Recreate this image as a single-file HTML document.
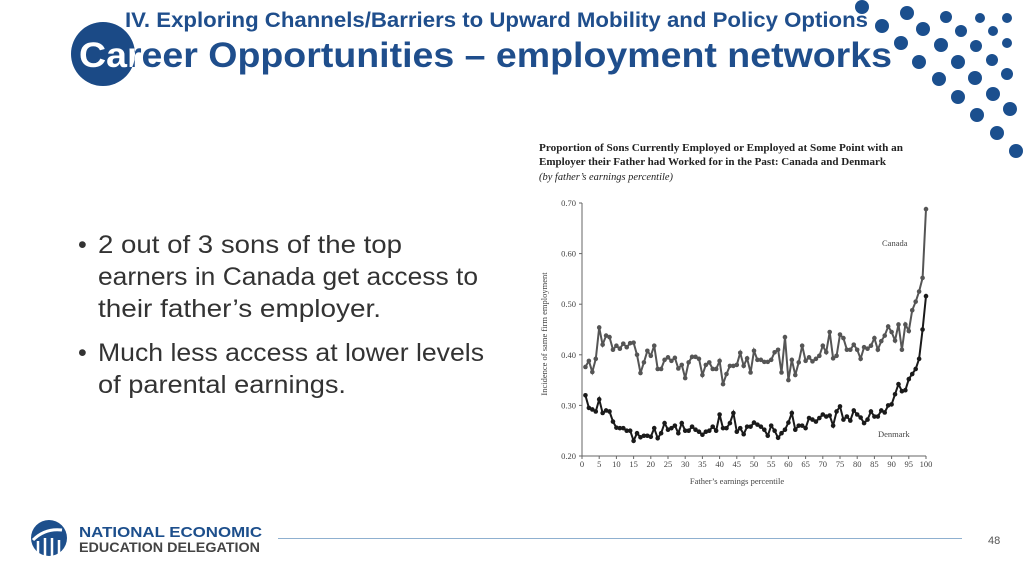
<!DOCTYPE html>
<html><head><meta charset="utf-8"><style>
html,body{margin:0;padding:0;background:#fff;width:1024px;height:576px;overflow:hidden}
svg{display:block}
</style></head><body>
<svg id="s" width="1024" height="576" viewBox="0 0 1024 576" xmlns="http://www.w3.org/2000/svg">
<defs><clipPath id="cc"><circle cx="103" cy="54" r="32"/></clipPath></defs>
<g fill="#1b4f8e" id="dots"></g>
<text x="125" y="27" font-family="Liberation Sans, sans-serif" font-weight="bold" font-size="21" fill="#1f4e8c" textLength="743" lengthAdjust="spacingAndGlyphs">IV. Exploring Channels/Barriers to Upward Mobility and Policy Options</text>
<circle cx="103" cy="54" r="32" fill="#1b4a86"/>
<text x="79" y="67" font-family="Liberation Sans, sans-serif" font-weight="bold" font-size="35" fill="#1f4e8c" textLength="813" lengthAdjust="spacingAndGlyphs">Career Opportunities – employment networks</text>
<text x="79" y="67" font-family="Liberation Sans, sans-serif" font-weight="bold" font-size="35" fill="#fff" textLength="813" lengthAdjust="spacingAndGlyphs" clip-path="url(#cc)">Career Opportunities – employment networks</text>
<g font-family="Liberation Sans, sans-serif" font-size="25" fill="#333">
<text x="78" y="253">•</text><text x="98" y="253" textLength="304" lengthAdjust="spacingAndGlyphs">2 out of 3 sons of the top</text>
<text x="98" y="285" textLength="380" lengthAdjust="spacingAndGlyphs">earners in Canada get access to</text>
<text x="98" y="317" textLength="283" lengthAdjust="spacingAndGlyphs">their father’s employer.</text>
<text x="78" y="361">•</text><text x="98" y="361" textLength="386" lengthAdjust="spacingAndGlyphs">Much less access at lower levels</text>
<text x="98" y="393" textLength="248" lengthAdjust="spacingAndGlyphs">of parental earnings.</text>
</g>
<g font-family="Liberation Serif, serif" font-size="10" fill="#222">
<text x="539" y="151" font-weight="bold" textLength="364" lengthAdjust="spacingAndGlyphs">Proportion of Sons Currently Employed or Employed at Some Point with an</text>
<text x="539" y="165" font-weight="bold" textLength="347" lengthAdjust="spacingAndGlyphs">Employer their Father had Worked for in the Past: Canada and Denmark</text>
<text x="539" y="180" font-style="italic" textLength="134" lengthAdjust="spacingAndGlyphs">(by father’s earnings percentile)</text>
</g>
<g id="chart" font-family="Liberation Serif, serif" font-size="8.5" fill="#444"></g>
<line x1="278" y1="538.5" x2="962" y2="538.5" stroke="#8fb0d0" stroke-width="1"/>
<text x="988" y="544" font-family="Liberation Sans, sans-serif" font-size="11" fill="#555">48</text>
<circle cx="49" cy="538" r="18" fill="#1d4f8c"/>
<g stroke="#fff" stroke-width="2.5"><line x1="38" y1="541" x2="38" y2="556"/><line x1="45" y1="538" x2="45" y2="556"/><line x1="52" y1="538" x2="52" y2="556"/><line x1="59" y1="540" x2="59" y2="556"/></g>
<path d="M33 540 Q45 528 62 530" stroke="#fff" stroke-width="3" fill="none"/>
<text x="79" y="537" font-family="Liberation Sans, sans-serif" font-weight="bold" font-size="15" fill="#1d4f8c" textLength="183" lengthAdjust="spacingAndGlyphs">NATIONAL ECONOMIC</text>
<text x="79" y="552" font-family="Liberation Sans, sans-serif" font-weight="bold" font-size="14" fill="#444" textLength="181" lengthAdjust="spacingAndGlyphs">EDUCATION DELEGATION</text>
</svg>
<script>
var NS="http://www.w3.org/2000/svg";
function el(t,a,p){var e=document.createElementNS(NS,t);for(var k in a)e.setAttribute(k,a[k]);p.appendChild(e);return e;}
var D=[[862,7,7],[907,13,7],[946,17,6],[980,18,5],[1007,18,5],[882,26,7],[923,29,7],[961,31,6],[993,31,5],[901,43,7],[941,45,7],[976,46,6],[1007,43,5],[919,62,7],[958,62,7],[992,60,6],[1007,74,6],[939,79,7],[975,78,7],[993,94,7],[958,97,7],[1010,109,7],[977,115,7],[997,133,7],[1016,151,7]];
var dg=document.getElementById('dots');D.forEach(function(d){el('circle',{cx:d[0],cy:d[1],r:d[2]},dg)});
var C=[.376,.388,.366,.392,.454,.42,.438,.435,.41,.418,.412,.422,.415,.423,.424,.4,.364,.385,.408,.398,.418,.372,.372,.39,.395,.388,.394,.373,.38,.354,.385,.396,.396,.392,.36,.38,.385,.372,.372,.388,.342,.362,.378,.378,.38,.404,.378,.393,.365,.408,.39,.39,.386,.386,.39,.405,.41,.365,.435,.35,.39,.36,.385,.418,.388,.395,.387,.392,.398,.418,.405,.445,.393,.398,.44,.433,.41,.41,.42,.41,.392,.415,.412,.418,.433,.41,.427,.438,.456,.445,.428,.46,.41,.46,.447,.488,.505,.525,.552,.688];
var Dn=[.32,.295,.292,.288,.312,.285,.29,.288,.268,.256,.255,.255,.25,.25,.23,.245,.237,.24,.24,.238,.255,.235,.245,.265,.252,.255,.26,.245,.265,.25,.25,.258,.252,.248,.242,.248,.25,.258,.25,.282,.255,.255,.265,.285,.248,.255,.243,.258,.258,.266,.262,.258,.252,.24,.26,.25,.236,.245,.252,.266,.285,.252,.26,.26,.255,.275,.272,.268,.275,.282,.278,.28,.26,.288,.298,.272,.278,.27,.29,.282,.276,.265,.272,.288,.278,.278,.29,.286,.3,.302,.322,.342,.328,.33,.352,.362,.372,.392,.45,.516];
var g=document.getElementById('chart');
var X=function(p){return 582+p*3.44},Y=function(v){return 456-(v-0.2)*506};
el('line',{x1:582,y1:203,x2:582,y2:456,stroke:'#666','stroke-width':1},g);
el('line',{x1:582,y1:456,x2:926,y2:456,stroke:'#666','stroke-width':1},g);
[.2,.3,.4,.5,.6,.7].forEach(function(v){el('line',{x1:579,y1:Y(v),x2:582,y2:Y(v),stroke:'#666'},g);var t=el('text',{x:576,y:Y(v)+3,'text-anchor':'end'},g);t.textContent=v.toFixed(2);});
for(var p=0;p<=100;p+=5){el('line',{x1:X(p),y1:456,x2:X(p),y2:459,stroke:'#666'},g);var t=el('text',{x:X(p),y:467,'text-anchor':'middle'},g);t.textContent=p;}
var t=el('text',{x:737,y:484,'text-anchor':'middle'},g);t.textContent="Father’s earnings percentile";
t=el('text',{x:0,y:0,'text-anchor':'middle',transform:'translate(547,334) rotate(-90)'},g);t.textContent="Incidence of same firm employment";
t=el('text',{x:882,y:246},g);t.textContent="Canada";
t=el('text',{x:878,y:437},g);t.textContent="Denmark";
function series(a,col){var pts=a.map(function(v,i){return X(i+1).toFixed(1)+','+Y(v).toFixed(1)}).join(' ');el('polyline',{points:pts,fill:'none',stroke:col,'stroke-width':2},g);a.forEach(function(v,i){el('circle',{cx:X(i+1),cy:Y(v),r:2.3,fill:col},g)});}
series(C,'#555');series(Dn,'#1a1a1a');
</script>
</body></html>
